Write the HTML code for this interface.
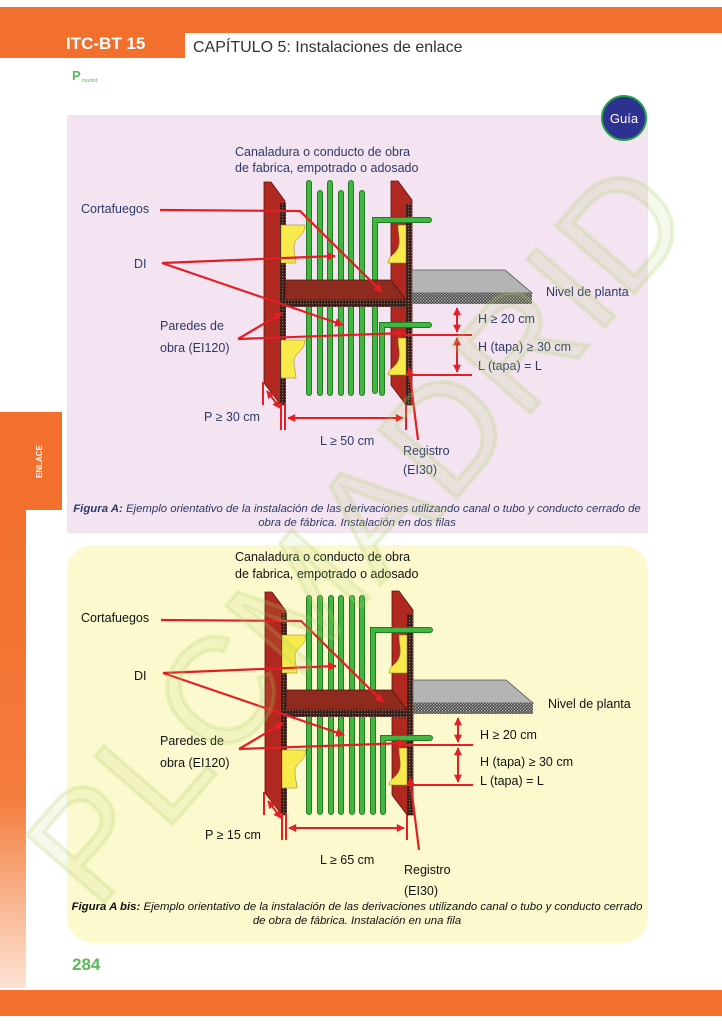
<!DOCTYPE html>
<html><head><meta charset="utf-8"><style>
html,body{margin:0;padding:0;background:#fff;}
svg{display:block;}
text{font-family:"Liberation Sans",sans-serif;}
</style></head><body>
<svg width="722" height="1024" viewBox="0 0 722 1024" xmlns="http://www.w3.org/2000/svg">
<defs>
<pattern id="hd" width="3" height="3" patternUnits="userSpaceOnUse"><rect width="3" height="3" fill="#3a1e1a"/><rect width="1.2" height="1.2" fill="#8a6a60"/></pattern>
<pattern id="hg" width="3" height="3" patternUnits="userSpaceOnUse"><rect width="3" height="3" fill="#444"/><rect width="1.3" height="1.3" fill="#bbb"/><rect x="1.5" y="1.5" width="1.3" height="1.3" fill="#bbb"/></pattern>
<marker id="ar" viewBox="0 0 10 10" refX="9" refY="5" markerWidth="5" markerHeight="4" orient="auto-start-reverse" markerUnits="strokeWidth"><path d="M0,0 L10,5 L0,10 Z" fill="#e31e24"/></marker>
<linearGradient id="lg" x1="0" y1="0" x2="0" y2="1"><stop offset="0" stop-color="#f26f2d"/><stop offset="0.6" stop-color="#f47c3c"/><stop offset="1" stop-color="#fde3d4"/></linearGradient>
<g id="struct">
 <polygon points="264,182 271,182 285,201 285,405 281,405 264,383" fill="#b0281f" stroke="#5a1510" stroke-width="0.8"/>
 <rect x="280" y="203" width="6" height="202" fill="url(#hd)"/>
 <polygon points="391,181 398,181 412,200 412,405 406,405 391,385" fill="#b0281f" stroke="#5a1510" stroke-width="0.8"/>
 <rect x="406" y="204" width="6" height="201" fill="url(#hd)"/>
 <path d="M281,225 H305 C305,236 294,238 294,246 C294,254 296,258 296,263 H281 Z" fill="#f7ea4a" stroke="#8a7a20" stroke-width="0.5"/>
 <path d="M281,340 H305 C305,351 294,353 294,361 C294,369 296,373 296,378 H281 Z" fill="#f7ea4a" stroke="#8a7a20" stroke-width="0.5"/>
 <path d="M406,225 H398 C398,236 401,240 398,248 C395,255 388,256 388,263 H406 Z" fill="#f7ea4a" stroke="#8a7a20" stroke-width="0.5"/>
 <path d="M406,338 H398 C398,349 401,353 398,361 C395,368 388,369 388,375 H406 Z" fill="#f7ea4a" stroke="#8a7a20" stroke-width="0.5"/>
</g>
<g id="slab">
 <polygon points="285,280 391,280 406,300 285,300" fill="#8e2a1e" stroke="#4a1410" stroke-width="0.8"/>
 <rect x="285" y="300" width="127" height="7" fill="url(#hd)"/>
 <polygon points="412,270 505,270 532,293 412,293" fill="#b4b4b4" stroke="#555" stroke-width="0.8"/>
 <rect x="412" y="293" width="120" height="11" fill="url(#hg)"/>
 <g stroke="#e31e24" stroke-width="2" fill="none">
  <line x1="457" y1="308" x2="457" y2="332" marker-start="url(#ar)" marker-end="url(#ar)"/>
  <line x1="405" y1="335" x2="472" y2="335"/>
  <line x1="457" y1="338" x2="457" y2="372" marker-start="url(#ar)" marker-end="url(#ar)"/>
  <line x1="410" y1="375" x2="472" y2="375"/>
  <line x1="263" y1="382" x2="263" y2="405"/>
  <line x1="267" y1="391" x2="280" y2="408" marker-start="url(#ar)" marker-end="url(#ar)"/>
  <line x1="281" y1="403" x2="281" y2="430"/>
  <line x1="285" y1="403" x2="285" y2="430"/>
  <line x1="288" y1="418" x2="403" y2="418" marker-start="url(#ar)" marker-end="url(#ar)"/>
  <line x1="406" y1="405" x2="406" y2="430"/>
  <line x1="418" y1="440" x2="409" y2="368" marker-end="url(#ar)" stroke-width="2.2"/>
 </g>
 <g stroke="#e31e24" stroke-width="2.2" fill="none" stroke-linejoin="miter">
  <polyline points="160,210 300,211 382,292" marker-end="url(#ar)"/>
  <line x1="162" y1="263" x2="335" y2="256" marker-end="url(#ar)"/>
  <line x1="162" y1="263" x2="343" y2="325" marker-end="url(#ar)"/>
  <line x1="238" y1="339" x2="282" y2="313" marker-end="url(#ar)"/>
  <line x1="238" y1="339" x2="405" y2="333" marker-end="url(#ar)"/>
 </g>
</g>
</defs>

<rect x="0" y="7" width="722" height="26" fill="#f26f2d"/>
<rect x="0" y="7" width="185" height="51" fill="#f26f2d"/>
<text x="66" y="49" font-size="17" font-weight="bold" fill="#fff">ITC-BT 15</text>
<text x="193" y="52" font-size="16" fill="#333">CAPÍTULO 5: Instalaciones de enlace</text>
<text x="72" y="80" font-size="13" font-weight="bold" fill="#5cb85c">P</text>
<text x="82" y="82" font-size="5" fill="#5cb85c">madrid</text>

<rect x="0" y="412" width="62" height="98" fill="#f26f2d"/>
<rect x="0" y="510" width="26" height="478" fill="url(#lg)"/>
<text transform="translate(42,478) rotate(-90)" font-size="8" font-weight="bold" fill="#fff">ENLACE</text>

<rect x="67" y="115" width="581" height="418" fill="#f4e3f0"/>
<rect x="67" y="545" width="581" height="398" rx="26" fill="#fdf9cf"/>

<rect x="614" y="136" width="14" height="4" fill="#f3e21a"/>
<circle cx="624" cy="118" r="22" fill="#2e3192" stroke="#22a24a" stroke-width="2"/>
<text x="624" y="123" font-size="13" fill="#fff" text-anchor="middle">Guía</text>

<g>
 <use href="#struct"/>
 <g stroke-linecap="round" fill="none">
  <g stroke="#237a23" stroke-width="6">
   <path d="M309,183 V393 M320,193 V393 M330,183 V393 M341,193 V393 M351,183 V393 M362,193 V393 M375,391 V220 H429 M382,393 V325 H429"/>
  </g>
  <g stroke="#41b640" stroke-width="4">
   <path d="M309,183 V393 M320,193 V393 M330,183 V393 M341,193 V393 M351,183 V393 M362,193 V393 M375,391 V220 H429 M382,393 V325 H429"/>
  </g>
 </g>
 <use href="#slab"/>
 <g font-size="12.5" fill="#2d3a66">
  <text x="235" y="156">Canaladura o conducto de obra</text>
  <text x="235" y="172">de fabrica, empotrado o adosado</text>
  <text x="81" y="213">Cortafuegos</text>
  <text x="134" y="268">DI</text>
  <text x="160" y="330">Paredes de</text>
  <text x="160" y="352">obra (EI120)</text>
  <text x="546" y="296">Nivel de planta</text>
  <text x="478" y="323">H ≥ 20 cm</text>
  <text x="478" y="351">H (tapa) ≥ 30 cm</text>
  <text x="478" y="370">L (tapa) = L</text>
  <text x="204" y="421">P ≥ 30 cm</text>
  <text x="320" y="445">L ≥ 50 cm</text>
  <text x="403" y="455">Registro</text>
  <text x="403" y="474">(EI30)</text>
 </g>
 <text x="357" y="512" font-size="11.4" font-style="italic" fill="#2d3a66" text-anchor="middle"><tspan font-weight="bold">Figura A:</tspan> Ejemplo orientativo de la instalación de las derivaciones utilizando canal o tubo y conducto cerrado de</text>
 <text x="357" y="526" font-size="11.4" font-style="italic" fill="#2d3a66" text-anchor="middle">obra de fábrica. Instalación en dos filas</text>
</g>

<g transform="translate(1,410)">
 <use href="#struct"/>
 <g stroke-linecap="round" fill="none">
  <g stroke="#237a23" stroke-width="6">
   <path d="M308,188 V402 M319,188 V402 M330,188 V402 M340,188 V402 M351,188 V402 M361,188 V402 M372,402 V220 H429 M382,402 V328 H429"/>
  </g>
  <g stroke="#41b640" stroke-width="4">
   <path d="M308,188 V402 M319,188 V402 M330,188 V402 M340,188 V402 M351,188 V402 M361,188 V402 M372,402 V220 H429 M382,402 V328 H429"/>
  </g>
 </g>
 <use href="#slab"/>
</g>
<g font-size="12.5" fill="#111">
 <text x="235" y="561">Canaladura o conducto de obra</text>
 <text x="235" y="578">de fabrica, empotrado o adosado</text>
 <text x="81" y="622">Cortafuegos</text>
 <text x="134" y="680">DI</text>
 <text x="160" y="745">Paredes de</text>
 <text x="160" y="767">obra (EI120)</text>
 <text x="548" y="708">Nivel de planta</text>
 <text x="480" y="739">H ≥ 20 cm</text>
 <text x="480" y="766">H (tapa) ≥ 30 cm</text>
 <text x="480" y="785">L (tapa) = L</text>
 <text x="205" y="839">P ≥ 15 cm</text>
 <text x="320" y="864">L ≥ 65 cm</text>
 <text x="404" y="874">Registro</text>
 <text x="404" y="895">(EI30)</text>
</g>
<text x="357" y="910" font-size="11.4" font-style="italic" fill="#111" text-anchor="middle"><tspan font-weight="bold">Figura A bis:</tspan> Ejemplo orientativo de la instalación de las derivaciones utilizando canal o tubo y conducto cerrado</text>
<text x="357" y="924" font-size="11.4" font-style="italic" fill="#111" text-anchor="middle">de obra de fábrica. Instalación en una fila</text>

<text transform="translate(398,565) rotate(-49)" font-size="150" fill="#a8d060" fill-opacity="0.12" stroke="#a8d060" stroke-opacity="0.22" stroke-width="4" text-anchor="middle" letter-spacing="4">PLCMADRID</text>

<text x="72" y="970" font-size="17" font-weight="bold" fill="#5cb85c">284</text>
<rect x="0" y="990" width="722" height="26" fill="#f26f2d"/>
</svg>
</body></html>
